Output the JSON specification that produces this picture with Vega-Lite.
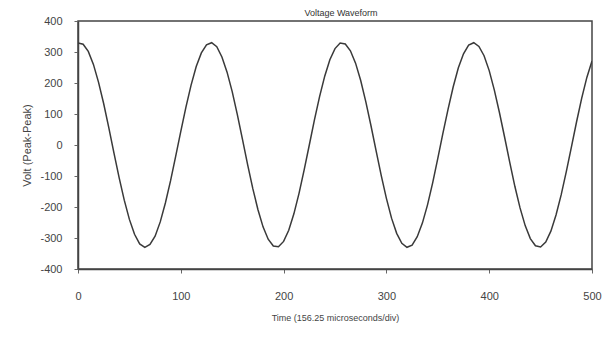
{
  "$schema": "https://vega.github.io/schema/vega-lite/v6.json",
  "width": 514,
  "height": 248,
  "autosize": "none",
  "padding": {"left": 78, "top": 21, "right": 12, "bottom": 75},
  "background": "white",
  "title": {"text": "Voltage Waveform", "fontSize": 9, "fontWeight": "normal", "color": "#333", "font": "Liberation Sans", "offset": 4, "dx": 6, "dy": 7},
  "config": {
    "view": {"stroke": "#444", "strokeWidth": 1.5},
    "axis": {"grid": false, "domainColor": "#444", "domainWidth": 1.5, "tickColor": "#666", "tickSize": 4, "labelFont": "Liberation Sans", "titleFont": "Liberation Sans", "labelColor": "#444", "titleColor": "#444", "titleFontWeight": "normal"}
  },
  "data": {"values": [
    {"t": 0, "v": 329}, {"t": 5, "v": 325}, {"t": 10, "v": 302}, {"t": 15, "v": 260}, {"t": 20, "v": 202},
    {"t": 25, "v": 133}, {"t": 30, "v": 55}, {"t": 35, "v": -26}, {"t": 40, "v": -105}, {"t": 45, "v": -178},
    {"t": 50, "v": -240}, {"t": 55, "v": -288}, {"t": 60, "v": -319}, {"t": 65, "v": -330}, {"t": 70, "v": -321},
    {"t": 75, "v": -294}, {"t": 80, "v": -248}, {"t": 85, "v": -187}, {"t": 90, "v": -116}, {"t": 95, "v": -37},
    {"t": 100, "v": 44}, {"t": 105, "v": 122}, {"t": 110, "v": 193}, {"t": 115, "v": 253}, {"t": 120, "v": 297},
    {"t": 125, "v": 323}, {"t": 130, "v": 330}, {"t": 135, "v": 317}, {"t": 140, "v": 284}, {"t": 145, "v": 235},
    {"t": 150, "v": 172}, {"t": 155, "v": 98}, {"t": 160, "v": 18}, {"t": 165, "v": -63}, {"t": 170, "v": -140},
    {"t": 175, "v": -208}, {"t": 180, "v": -264}, {"t": 185, "v": -304}, {"t": 190, "v": -326}, {"t": 195, "v": -328},
    {"t": 200, "v": -311}, {"t": 205, "v": -275}, {"t": 210, "v": -222}, {"t": 215, "v": -156}, {"t": 220, "v": -80},
    {"t": 225, "v": 0}, {"t": 230, "v": 81}, {"t": 235, "v": 156}, {"t": 240, "v": 222}, {"t": 245, "v": 275},
    {"t": 250, "v": 311}, {"t": 255, "v": 329}, {"t": 260, "v": 326}, {"t": 265, "v": 304}, {"t": 270, "v": 264},
    {"t": 275, "v": 208}, {"t": 280, "v": 139}, {"t": 285, "v": 62}, {"t": 290, "v": -19}, {"t": 295, "v": -99},
    {"t": 300, "v": -172}, {"t": 305, "v": -236}, {"t": 310, "v": -285}, {"t": 315, "v": -317}, {"t": 320, "v": -330},
    {"t": 325, "v": -323}, {"t": 330, "v": -296}, {"t": 335, "v": -252}, {"t": 340, "v": -193}, {"t": 345, "v": -122},
    {"t": 350, "v": -43}, {"t": 355, "v": 38}, {"t": 360, "v": 116}, {"t": 365, "v": 188}, {"t": 370, "v": 249},
    {"t": 375, "v": 294}, {"t": 380, "v": 322}, {"t": 385, "v": 330}, {"t": 390, "v": 318}, {"t": 395, "v": 288},
    {"t": 400, "v": 240}, {"t": 405, "v": 177}, {"t": 410, "v": 104}, {"t": 415, "v": 25}, {"t": 420, "v": -56},
    {"t": 425, "v": -134}, {"t": 430, "v": -203}, {"t": 435, "v": -260}, {"t": 440, "v": -302}, {"t": 445, "v": -325},
    {"t": 450, "v": -329}, {"t": 455, "v": -313}, {"t": 460, "v": -278}, {"t": 465, "v": -226}, {"t": 470, "v": -161},
    {"t": 475, "v": -86}, {"t": 480, "v": -6}, {"t": 485, "v": 75}, {"t": 490, "v": 151}, {"t": 495, "v": 218},
    {"t": 500, "v": 271}
  ]},
  "mark": {"type": "line", "color": "#3a3a3a", "strokeWidth": 1.5, "clip": true},
  "encoding": {
    "x": {"field": "t", "type": "quantitative", "scale": {"domain": [0, 500], "nice": false},
      "axis": {"values": [0, 100, 200, 300, 400, 500], "title": "Time (156.25 microseconds/div)", "titleFontSize": 9, "labelFontSize": 11, "labelPadding": 17, "titlePadding": 12, "labelFlush": false}},
    "y": {"field": "v", "type": "quantitative", "scale": {"domain": [-400, 400], "nice": false},
      "axis": {"values": [-400, -300, -200, -100, 0, 100, 200, 300, 400], "labelExpr": "datum.value < 0 ? '-' + abs(datum.value) : '' + datum.value", "title": "Volt (Peak-Peak)", "titleFontSize": 11, "labelFontSize": 11, "labelPadding": 12, "titlePadding": 7}}
  }
}
